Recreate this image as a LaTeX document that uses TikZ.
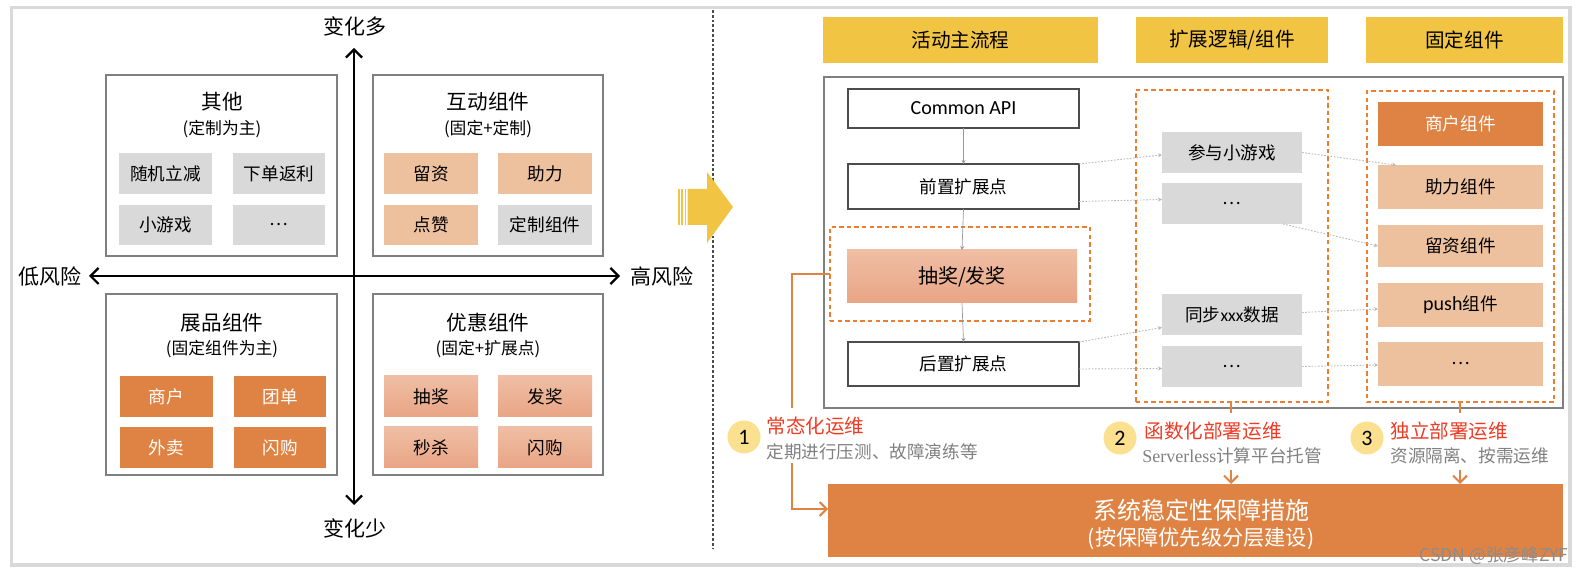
\documentclass[tikz,border=0pt]{standalone}
\usepackage{fontspec}
\setmainfont{Noto Sans CJK SC}
\newfontfamily\lat{Carlito}
\newfontfamily\serif{Liberation Serif}
\usetikzlibrary{arrows.meta,calc}
\definecolor{ylw}{HTML}{F2C443}
\definecolor{org}{HTML}{DF8344}
\definecolor{pch}{HTML}{EDC19E}
\definecolor{gry}{HTML}{D9D9D9}
\definecolor{salT}{HTML}{EFBEA4}
\definecolor{salB}{HTML}{E9A585}
\definecolor{redl}{HTML}{EE3B24}
\definecolor{circ}{HTML}{FBE08F}
\definecolor{dorg}{HTML}{ED7D31}
\definecolor{frm}{HTML}{D9D9D9}
\definecolor{qbd}{HTML}{7F7F7F}
\definecolor{dotc}{HTML}{B8B8B8}
\newcommand\bx[7]{\node[#6, minimum width={(#4-(#2))*0.5pt}, minimum height={(#5-(#3))*0.5pt}] (#1) at ({((#2)+(#4))/2},{((#3)+(#5))/2}) {#7};}
\begin{document}
\begin{tikzpicture}[x=0.5pt,y=-0.5pt,
  base/.style={inner sep=0pt,outer sep=0pt,align=center},
  ftin/.style={font=\fontsize{8.8}{10}\selectfont},
  gbox/.style={base,fill=gry,ftin},
  pbox/.style={base,fill=pch,ftin},
  obox/.style={base,fill=org,text=white,ftin},
  sbox/.style={base,top color=salT,bottom color=salB,ftin},
  qbox/.style={base,draw=qbd,line width=0.6pt,fill=white},
  wbox/.style={base,draw=black!70,line width=0.6pt,fill=white,ftin},
  hdr/.style={base,fill=ylw,font=\fontsize{9.8}{12}\selectfont},
  dbox/.style={base,draw=dorg,line width=1pt,dash pattern=on 2.2pt off 1.6pt},
  qtitle/.style={font=\fontsize{10.3}{12}\selectfont,inner sep=0pt},
  qsub/.style={font=\fontsize{8.4}{10}\selectfont,inner sep=0pt},
  axl/.style={font=\fontsize{10.5}{12}\selectfont,inner sep=0pt},
  axis/.style={line width=1.1pt,{Straight Barb[length=4pt,width=8pt]}-{Straight Barb[length=4pt,width=8pt]}},
  varr/.style={draw=black!40,line width=0.35pt,-{Stealth[length=2pt,width=2pt]}},
  darr/.style={draw=dotc,line width=0.45pt,dash pattern=on 0.8pt off 0.8pt,-{Stealth[length=2pt,width=2pt]}},
  oline/.style={draw=org,line width=1pt},
  numc/.style={circle,fill=circ,minimum size=16.5pt,inner sep=0pt,font=\lat\fontsize{11}{12}\selectfont},
  redlab/.style={anchor=west,text=redl,inner sep=0pt,font=\fontsize{9.8}{11}\selectfont},
  sublab/.style={anchor=west,text=black!50,inner sep=0pt,font=\fontsize{8.8}{10}\selectfont}
]
\useasboundingbox (0,0) rectangle (1584,576);
% outer frame and divider
\draw[frm,line width=1.75pt] (11.5,7.5) rectangle (1570,565);
\draw[black!70,line width=0.9pt,dash pattern=on 1.4pt off 1pt] (713,10) -- (713,549);

% ---------- left quadrant ----------
\node[axl] (top) at (355,26) {变化多};
\node[axl] (bot) at (355,528) {变化少};
\node[axl] (lft) at (50,276) {低风险};
\node[axl] (rgt) at (662,276) {高风险};
\coordinate (vt) at (354,48); \coordinate (vb) at (354,505);
\coordinate (hl) at (89,276); \coordinate (hr) at (620,276);

\bx{q1}{106}{75}{337}{256}{qbox}{}
\bx{q2}{373}{75}{603}{256}{qbox}{}
\bx{q3}{106}{294}{337}{475}{qbox}{}
\bx{q4}{373}{294}{603}{475}{qbox}{}
\draw[axis] (vt) -- (vb);
\draw[axis] (hl) -- (hr);

\node[qtitle] (q1t) at (222,102) {其他};
\node[qsub] (q1s) at (222,129) {(定制为主)};
\node[qtitle] (q2t) at (488,102) {互动组件};
\node[qsub] (q2s) at (488,129) {(固定+定制)};
\node[qtitle] (q3t) at (222,323) {展品组件};
\node[qsub] (q3s) at (222,349) {(固定组件为主)};
\node[qtitle] (q4t) at (488,323) {优惠组件};
\node[qsub] (q4s) at (488,349) {(固定+扩展点)};

\bx{a1}{119}{153}{212}{194}{gbox}{随机立减}
\bx{a2}{233}{153}{325}{194}{gbox}{下单返利}
\bx{a3}{119}{205}{212}{245}{gbox}{小游戏}
\bx{a4}{233}{205}{325}{245}{gbox}{…}
\bx{b1}{384}{153}{478}{194}{pbox}{留资}
\bx{b2}{498}{153}{592}{194}{pbox}{助力}
\bx{b3}{384}{205}{478}{245}{pbox}{点赞}
\bx{b4}{498}{205}{592}{245}{gbox}{定制组件}
\bx{c1}{120}{376}{213}{417}{obox}{商户}
\bx{c2}{234}{376}{326}{417}{obox}{团单}
\bx{c3}{120}{427}{213}{468}{obox}{外卖}
\bx{c4}{234}{427}{326}{468}{obox}{闪购}
\bx{d1}{384}{376}{478}{417}{sbox}{抽奖}
\bx{d2}{498}{376}{592}{417}{sbox}{发奖}
\bx{d3}{384}{427}{478}{468}{sbox}{秒杀}
\bx{d4}{498}{427}{592}{468}{sbox}{闪购}

% big yellow arrow
\fill[ylw] (678,189) rectangle (680,225);
\fill[ylw] (681.3,189) rectangle (683.3,225);
\fill[ylw] (684.6,189) rectangle (686.4,225);
\fill[ylw] (687.5,189) -- (707,189) -- (707,172) -- (733,207) -- (707,243) -- (707,225) -- (687.5,225) -- cycle;

% ---------- right side ----------
\bx{h1}{823}{17}{1098}{63}{hdr}{活动主流程}
\bx{h2}{1136}{17}{1328}{63}{hdr}{扩展逻辑/组件}
\bx{h3}{1366}{17}{1563}{63}{hdr}{固定组件}

\bx{main}{824}{77}{1563}{408}{base,draw=qbd,line width=0.6pt}{}
\bx{api}{848}{89}{1079}{128}{wbox,font=\lat\fontsize{10}{12}\selectfont}{Common API}
\bx{pre}{848}{164}{1079}{209}{wbox}{前置扩展点}
\bx{lot}{847}{250}{1077}{303}{base,top color=salT,bottom color=salB,font=\fontsize{10}{12}\selectfont}{抽奖/发奖}
\bx{dash1}{830}{227}{1090}{321}{dbox}{}
\bx{post}{848}{342}{1079}{386}{wbox}{后置扩展点}

\bx{dash2}{1136}{90}{1328}{402}{dbox}{}
\bx{dash3}{1367}{91}{1554}{402}{dbox}{}

\bx{e1}{1162}{132}{1302}{173}{gbox}{参与小游戏}
\bx{e2}{1162}{183}{1302}{224}{gbox}{…}
\bx{e3}{1162}{294}{1302}{335}{gbox}{同步{\lat xxx}数据}
\bx{e4}{1162}{346}{1302}{387}{gbox}{…}

\bx{f1}{1378}{102}{1543}{146}{obox}{商户组件}
\bx{f2}{1378}{165}{1543}{209}{pbox}{助力组件}
\bx{f3}{1378}{225}{1543}{267}{pbox}{留资组件}
\bx{f4}{1378}{283}{1543}{327}{pbox}{{\lat\fontsize{10}{12}\selectfont push}组件}
\bx{f5}{1378}{342}{1543}{386}{pbox}{…}

% main flow arrows
\draw[varr] (api.south) -- (pre.north);
\draw[varr] (pre.south) -- (lot.north);
\draw[varr] (lot.south) -- (post.north);

% dotted arrows
\draw[darr] (pre.north east) -- ([yshift=-1.2pt]e1.west);
\draw[darr] ([yshift=-7.5pt]pre.east) -- ([yshift=2pt]e2.west);
\draw[darr] (e1.east) -- ([xshift=9pt]f2.north west);
\draw[darr] ([xshift=-9.5pt]e2.south east) -- (f3.west);
\draw[darr] (post.north east) -- ([yshift=-6.5pt]e3.west);
\draw[darr] ([yshift=-2.5pt]post.east) -- ([yshift=-1pt]e4.west);
\draw[darr] ([yshift=1pt]e3.east) -- ([yshift=-2pt]f4.west);
\draw[darr] (e4.east) -- ([yshift=-0.5pt]f5.west);

% system box
\bx{sys}{828}{484}{1563}{557}{base,fill=org}{}
\node[base,text=white] (sysT) at (1201,524) {{\fontsize{12}{15}\selectfont 系统稳定性保障措施}\\[1pt]{\fontsize{10.6}{14}\selectfont (按保障优先级分层建设)}};

% labels
\node[numc] (n1) at (744,437) {1};
\node[numc] (n2) at (1120,438) {2};
\node[numc] (n3) at (1367,438) {3};
\node[redlab] (l1) at (766,426) {常态化运维};
\node[sublab] (s1) at (766,452) {定期进行压测、故障演练等};
\node[redlab] (l2) at (1144,431) {函数化部署运维};
\node[sublab] (s2) at (1142,456) {{\serif\fontsize{9}{10}\selectfont Serverless}计算平台托管};
\node[redlab] (l3) at (1390,431) {独立部署运维};
\node[sublab] (s3) at (1390,456) {资源隔离、按需运维};

% orange connectors
\coordinate (o1a) at (792,408);
\coordinate (o1b) at (792,463);
\coordinate (o1c) at (828,509);
\draw[oline] (dash1.west) -| (o1a);
\draw[oline,-{Straight Barb[length=3.5pt,width=7pt]}] (o1b) |- (o1c);
\coordinate (o2a) at (1231,413);
\coordinate (o2b) at (1231,470);
\draw[oline] (dash2.south -| o2a) -- (o2a);
\draw[oline,-{Straight Barb[length=3.5pt,width=7pt]}] (o2b) -- (sys.north -| o2b);
\coordinate (o3a) at (1460,413);
\coordinate (o3b) at (1460,470);
\draw[oline] (dash3.south -| o3a) -- (o3a);
\draw[oline,-{Straight Barb[length=3.5pt,width=7pt]}] (o3b) -- (sys.north -| o3b);

% watermark
\node[inner sep=0pt,text=black!45,font=\fontsize{8.8}{10}\selectfont] (wm) at (1494,556) {CSDN @张彦峰ZYF};
\end{tikzpicture}
\end{document}
